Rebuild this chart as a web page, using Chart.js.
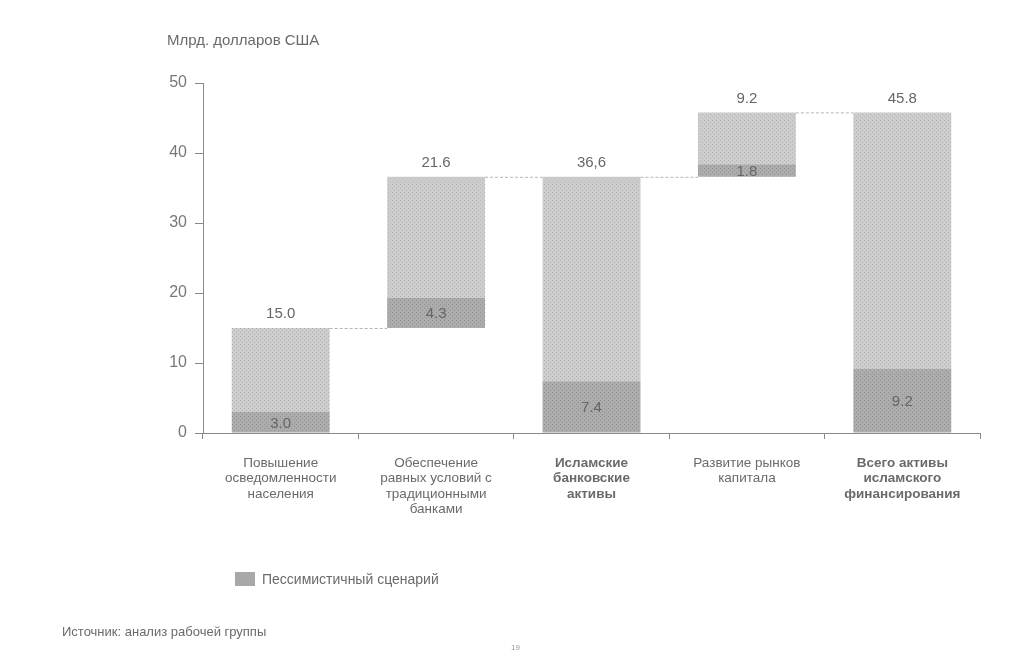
<!DOCTYPE html>
<html lang="ru">
<head>
<meta charset="utf-8">
<title>Активы исламского финансирования</title>
<script src="https://cdn.jsdelivr.net/npm/chart.js"></script>
<style>
  html, body { margin: 0; padding: 0; background: #fff; }
  #wrap { position: relative; width: 1024px; height: 658px; overflow: hidden; font-family: 'Liberation Sans', Arial, sans-serif; color: #6a6a6a; }
  #chart { position: absolute; left: 0; top: 0; }
  .txt { position: absolute; white-space: nowrap; }
  #unit { left: 167px; top: 31px; font-size: 15px; }
  #legend { left: 235px; top: 571px; font-size: 14px; display: flex; align-items: center; }
  #legend .sw { width: 20px; height: 14px; background: #a8a8a8; margin-right: 7px; }
  #source { left: 62px; top: 624px; font-size: 13px; }
  #page { left: 511px; top: 643px; font-size: 8px; color: #999; }
</style>
</head>
<body>
<div id="wrap">
  <canvas id="chart" width="1024" height="658"></canvas>
  <div class="txt" id="unit">Млрд. долларов США</div>
  <div class="txt" id="legend"><span class="sw"></span>Пессимистичный сценарий</div>
  <div class="txt" id="source">Источник: анализ рабочей группы</div>
  <div class="txt" id="page">19</div>
</div>
<script>
// данные водопада (млрд долларов США)
const categories = [
  ['Повышение', 'осведомленности', 'населения'],
  ['Обеспечение', 'равных условий с', 'традиционными', 'банками'],
  ['Исламские', 'банковские', 'активы'],
  ['Развитие рынков', 'капитала'],
  ['Всего активы', 'исламского', 'финансирования']
];
const boldCategory = [false, false, true, false, true];
const starts = [0, 15.0, 0, 36.6, 0];
const totals = [15.0, 21.6, 36.6, 9.2, 45.8];
const pessimistic = [3.0, 4.3, 7.4, 1.8, 9.2];
const totalLabels = ['15.0', '21.6', '36,6', '9.2', '45.8'];
const pessLabels = ['3.0', '4.3', '7.4', '1.8', '9.2'];
const yTicks = [0, 10, 20, 30, 40, 50];

const FONT = "'Liberation Sans', Arial, sans-serif";

// зернистая заливка как на скане (детерминированная)
function speckle(base, dark) {
  const c = document.createElement('canvas');
  c.width = 12; c.height = 12;
  const g = c.getContext('2d');
  g.fillStyle = base;
  g.fillRect(0, 0, 12, 12);
  g.fillStyle = dark;
  for (let y = 0; y < 12; y++) {
    for (let x = 0; x < 12; x++) {
      if ((x * 7 + y * 13 + x * y) % 4 === 0) g.fillRect(x, y, 1, 1);
    }
  }
  return g.createPattern(c, 'repeat');
}

const ctx = document.getElementById('chart').getContext('2d');
const lightFill = speckle('#cdcdcd', '#b4b4b4');
const darkFill = speckle('#acacac', '#939393');

const pessRanges = starts.map((s, i) => [s, s + pessimistic[i]]);
const restRanges = starts.map((s, i) => [s + pessimistic[i], s + totals[i]]);

// подписи значений и соединительные линии
const waterfallLabels = {
  id: 'waterfallLabels',
  afterDatasetsDraw(chart) {
    const c = chart.ctx;
    const y = chart.scales.y;
    const bars = chart.getDatasetMeta(1).data;
    c.save();
    // пунктир между столбцами
    c.strokeStyle = '#b5b5b5';
    c.lineWidth = 1;
    c.setLineDash([3, 2]);
    for (let i = 0; i < bars.length - 1; i++) {
      const lvl = y.getPixelForValue(starts[i] + totals[i]);
      c.beginPath();
      c.moveTo(bars[i].x + bars[i].width / 2, lvl + 0.5);
      c.lineTo(bars[i + 1].x - bars[i + 1].width / 2, lvl + 0.5);
      c.stroke();
    }
    c.setLineDash([]);
    c.fillStyle = '#666';
    c.textAlign = 'center';
    c.textBaseline = 'middle';
    c.font = '15px ' + FONT;
    bars.forEach((b, i) => {
      const top = y.getPixelForValue(starts[i] + totals[i]);
      c.fillText(totalLabels[i], b.x, top - 14);
      const mid = y.getPixelForValue(starts[i] + pessimistic[i] / 2);
      c.fillText(pessLabels[i], b.x, mid + 1);
    });
    c.restore();
  }
};

new Chart(ctx, {
  type: 'bar',
  data: {
    labels: categories,
    datasets: [
      { label: 'Пессимистичный сценарий', data: pessRanges, backgroundColor: darkFill, grouped: false,
        barPercentage: 0.63, categoryPercentage: 1 },
      { label: 'Прочее', data: restRanges, backgroundColor: lightFill, grouped: false,
        barPercentage: 0.63, categoryPercentage: 1 }
    ]
  },
  options: {
    responsive: false,
    animation: false,
    layout: { padding: { left: 158, right: 44, top: 83, bottom: 125 } },
    plugins: { legend: { display: false }, tooltip: { enabled: false } },
    scales: {
      x: {
        afterFit(scale) { scale.height = 100; },
        border: { color: '#8a8a8a', width: 1 },
        grid: { drawOnChartArea: false, tickLength: 6, color: '#8a8a8a' },
        ticks: {
          color: '#6a6a6a',
          padding: 17,
          maxRotation: 0,
          autoSkip: false,
          font: (c) => ({ size: 13.5, family: FONT, weight: boldCategory[c.index] ? 'bold' : 'normal', lineHeight: 1.12 })
        }
      },
      y: {
        min: 0,
        max: 50,
        afterFit(scale) { scale.width = 45; },
        afterBuildTicks(scale) { scale.ticks = yTicks.map(v => ({ value: v })); },
        border: { color: '#8a8a8a', width: 1 },
        grid: { drawOnChartArea: false, tickLength: 8, color: '#8a8a8a' },
        ticks: { color: '#777', padding: 8, font: { size: 16, family: FONT } }
      }
    }
  },
  plugins: [waterfallLabels]
});
</script>
</body>
</html>
